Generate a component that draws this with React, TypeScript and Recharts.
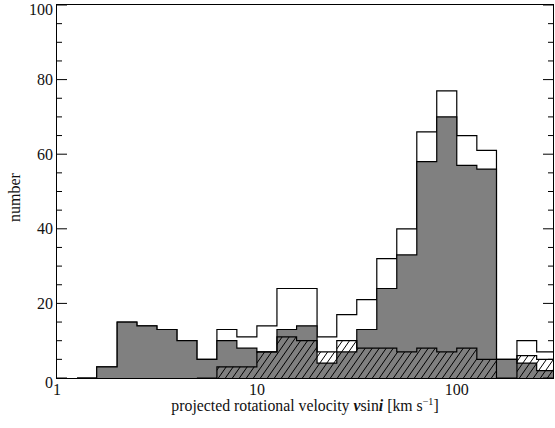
import React from 'react';
import { ComposedChart, Area, XAxis, YAxis } from 'recharts';

// histogram bin edges in km/s (0.1 dex bins), last one is the closing edge
const binEdges = [1.26, 1.58, 2.0, 2.51, 3.16, 3.98, 5.01, 6.31, 7.94, 10.0, 12.6, 15.8, 20.0, 25.1, 31.6, 39.8, 50.1, 63.1, 79.4, 100, 126, 158, 200, 251, 316];

// counts per bin (one fewer than edges)
const totalCounts = [0, 3, 15, 14, 13, 10, 5, 13, 11, 14, 24, 24, 11, 17, 21, 32, 40, 66, 77, 65, 61, 5, 10, 7];
const greyCounts = [0, 3, 15, 14, 13, 10, 5, 10, 8, 7, 13, 14, 4, 7, 13, 24, 33, 58, 70, 57, 56, 5, 4, 2];
const hatchCounts = [null, null, null, null, null, null, 0, 3, 3, 7, 11, 10, 7, 10, 8, 8, 7, 8, 7, 8, 5, 0, 6, 5];

const xTicks = [1, 10, 100];
const yTicks = [0, 5, 10, 15, 20, 25, 30, 35, 40, 45, 50, 55, 60, 65, 70, 75, 80, 85, 90, 95, 100];

const W = 555;
const H = 428;
const AXIS_W = 57;
const AXIS_H = 50;
const M = { top: 5, right: 2, bottom: 0, left: 0 };
const PLOT_RIGHT = W - M.right;
const FONT = '"Liberation Serif", "DejaVu Serif", serif';

const rows = binEdges.map((v, i) => ({
  v,
  total: totalCounts[i] ?? 0,
  grey: greyCounts[i] ?? 0,
  hatch: i < hatchCounts.length ? hatchCounts[i] : 0,
}));

const YTick = (props: any) => {
  const { x, y, payload } = props;
  const major = payload.value % 20 === 0;
  const len = major ? 10 : 5;
  const edge = payload.value === 0 || payload.value === 100;
  return (
    <g>
      <line x1={x} y1={y} x2={x + len} y2={y} stroke="#000" strokeWidth={1} />
      <line x1={PLOT_RIGHT} y1={y} x2={PLOT_RIGHT - len} y2={y} stroke="#000" strokeWidth={1} />
      {major && (
        <text x={x - 4} y={y + (edge ? 9.5 : 5.5)} textAnchor="end" fontFamily={FONT} fontSize={16} fill="#111">
          {payload.value}
        </text>
      )}
    </g>
  );
};

const XTick = (props: any) => {
  const { x, y, payload } = props;
  return (
    <text x={x} y={y + 17} textAnchor="middle" fontFamily={FONT} fontSize={16} fill="#111">
      {payload.value}
    </text>
  );
};

const yLabel = (p: any) => {
  const vb = p.viewBox;
  const cx = 20;
  const cy = vb.y + vb.height / 2 + 6;
  return (
    <text x={cx} y={cy} transform={`rotate(-90 ${cx} ${cy})`} textAnchor="middle" fontFamily={FONT} fontSize={16} fill="#111">
      number
    </text>
  );
};

const xLabel = (p: any) => {
  const vb = p.viewBox;
  const cx = vb.x + vb.width / 2;
  return (
    <text x={cx} y={vb.y + 33} textAnchor="middle" fontFamily={FONT} fontSize={15.8} fill="#111">
      {'projected rotational velocity '}
      <tspan fontWeight="bold" fontStyle="italic">v</tspan>
      {'sin'}
      <tspan fontWeight="bold" fontStyle="italic">i</tspan>
      {' [km s'}
      <tspan dy={-6} fontSize={10}>−1</tspan>
      <tspan dy={6}>]</tspan>
    </text>
  );
};

export default function App() {
  return (
    <div style={{ position: 'absolute', left: 0, top: 0, width: W, height: H, background: '#fff' }}>
      <svg width={0} height={0} style={{ position: 'absolute' }}>
        <defs>
          <pattern id="hatch" patternUnits="userSpaceOnUse" width={7} height={10}>
            <path d="M0,10 L7,0 M-7,10 L0,0 M7,10 L14,0" stroke="#000" strokeWidth={1} fill="none" />
          </pattern>
        </defs>
      </svg>
      <ComposedChart width={W} height={H} data={rows} margin={M}>
        <XAxis
          dataKey="v"
          type="number"
          scale="log"
          domain={[1, 303]}
          allowDataOverflow
          ticks={xTicks}
          interval={0}
          axisLine={false}
          tickLine={false}
          tickSize={0}
          tickMargin={0}
          height={AXIS_H}
          tick={<XTick />}
          label={{ content: xLabel }}
        />
        <YAxis
          type="number"
          domain={[0, 100]}
          allowDataOverflow
          ticks={yTicks}
          interval={0}
          axisLine={false}
          tickLine={false}
          tickSize={0}
          tickMargin={0}
          width={AXIS_W}
          tick={<YTick />}
          label={{ content: yLabel }}
        />
        <Area dataKey="total" type="stepAfter" fill="#fff" fillOpacity={1} stroke="#000" strokeWidth={1.2} isAnimationActive={false} />
        <Area dataKey="grey" type="stepAfter" fill="#808080" fillOpacity={1} stroke="#000" strokeWidth={1.2} isAnimationActive={false} />
        <Area dataKey="hatch" type="stepAfter" fill="url(#hatch)" fillOpacity={1} stroke="#000" strokeWidth={1.2} isAnimationActive={false} />
      </ComposedChart>
      <div
        style={{
          position: 'absolute',
          left: AXIS_W - 1,
          top: M.top - 1,
          width: PLOT_RIGHT - AXIS_W + 2,
          height: H - AXIS_H - M.top + 2,
          border: '1px solid #000',
          boxSizing: 'border-box',
          pointerEvents: 'none',
        }}
      />
    </div>
  );
}
